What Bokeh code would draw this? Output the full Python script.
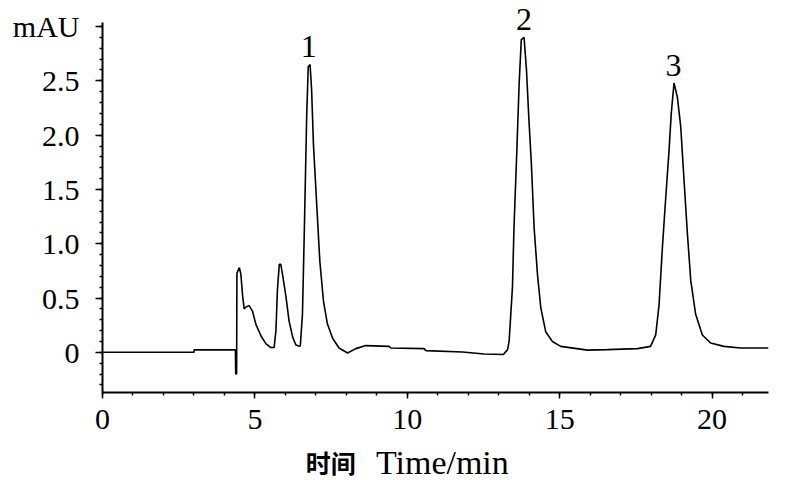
from bokeh.plotting import figure
from bokeh.models import FixedTicker, Range1d, ColumnDataSource
from bokeh.layouts import column
from bokeh.core.properties import value
from bokeh.embed import file_html
from bokeh.resources import INLINE

# Chromatogram trace (time in min, signal in mAU)
time_min = [0.0, 3.0, 3.01, 4.36, 4.37, 4.40, 4.41, 4.49, 4.54, 4.60, 4.65, 4.72,
            4.81, 4.92, 5.03, 5.20, 5.36, 5.52, 5.63, 5.69, 5.74, 5.80, 5.85, 5.91,
            6.02, 6.12, 6.24, 6.34, 6.45, 6.49, 6.56, 6.62, 6.70, 6.75, 6.81, 6.86,
            6.92, 7.02, 7.13, 7.25, 7.38, 7.55, 7.76, 8.04, 8.31, 8.64, 9.40, 9.46,
            10.55, 10.61, 11.81, 12.52, 13.15, 13.29, 13.34, 13.45, 13.50, 13.59,
            13.67, 13.74, 13.83, 13.91, 13.99, 14.07, 14.16, 14.27, 14.38, 14.54,
            14.76, 15.03, 15.91, 16.56, 17.55, 17.98, 18.15, 18.26, 18.37, 18.48,
            18.58, 18.66, 18.75, 18.86, 18.97, 19.08, 19.19, 19.30, 19.46, 19.68,
            19.95, 20.39, 20.93, 21.85]
signal_mau = [0.0, 0.0, 0.023, 0.023, -0.20, -0.20, 0.73, 0.78, 0.72, 0.51, 0.40, 0.42,
              0.43, 0.38, 0.26, 0.15, 0.08, 0.044, 0.044, 0.20, 0.58, 0.81, 0.81, 0.71,
              0.51, 0.29, 0.14, 0.07, 0.055, 0.06, 0.35, 1.10, 2.19, 2.63, 2.65, 2.42,
              1.92, 1.40, 0.84, 0.47, 0.26, 0.13, 0.04, -0.006, 0.034, 0.062, 0.055, 0.04,
              0.034, 0.016, 0.003, -0.015, -0.02, 0.025, 0.10, 0.60, 1.15, 1.83,
              2.48, 2.88, 2.90, 2.60, 2.14, 1.74, 1.15, 0.72, 0.41, 0.19,
              0.10, 0.055, 0.02, 0.025, 0.034, 0.055, 0.16, 0.44, 0.97, 1.43,
              1.83, 2.20, 2.48, 2.35, 2.08, 1.58, 1.09, 0.66, 0.35, 0.16,
              0.086, 0.055, 0.04, 0.04]

# Peak labels
peak_labels = ["1", "2", "3"]
peak_times = [6.77, 13.83, 18.73]
peak_heights = [2.65, 2.90, 2.48]

# Axis ticks and titles
x_major = [0, 5, 10, 15, 20]
x_minor = list(range(0, 22))
y_major = [0, 0.5, 1.0, 1.5, 2.0, 2.5, 3.0]
y_tick_labels = ["0", "0.5", "1.0", "1.5", "2.0", "2.5", "mAU"]
y_minor = [round(-0.3 + 0.1 * i, 1) for i in range(34)]
x_title_cn = "时间"
x_title_en = "Time/min"

SERIF = "Liberation Serif"

x_rng = Range1d(0, 21.85)
p = figure(width=790, height=443, x_range=x_rng, y_range=Range1d(-0.37, 3.24),
           output_backend="svg", toolbar_location=None,
           min_border_left=102, min_border_right=22, min_border_top=0, min_border_bottom=51)
p.outline_line_color = None
p.xgrid.grid_line_color = None
p.ygrid.grid_line_color = None
p.background_fill_color = "white"
p.border_fill_color = "white"

p.line(time_min, signal_mau, line_color="black", line_width=1.6)

src = ColumnDataSource(dict(x=peak_times, y=peak_heights, t=peak_labels))
p.text(x="x", y="y", text="t", source=src, text_font=value(SERIF), text_font_size="32px",
       text_align="center", text_baseline="alphabetic", y_offset=-18, text_color="black")

# x axis
xa = p.xaxis[0]
xa.ticker = FixedTicker(ticks=x_major, minor_ticks=x_minor)
xa.axis_line_width = 2
xa.axis_line_color = "black"
xa.major_tick_line_width = 1.5
xa.minor_tick_line_width = 1.5
xa.major_tick_out = 6
xa.major_tick_in = 0
xa.minor_tick_out = 3
xa.minor_tick_in = 0
xa.major_label_text_font = SERIF
xa.major_label_text_font_size = "30px"
xa.major_label_text_color = "black"
xa.major_label_standoff = 11

# y axis
ya = p.yaxis[0]
ya.ticker = FixedTicker(ticks=y_major, minor_ticks=y_minor)
ya.bounds = (-0.37, 3.04)
ya.major_label_overrides = dict(zip(y_major, y_tick_labels))
ya.axis_line_width = 2
ya.axis_line_color = "black"
ya.major_tick_line_width = 1.5
ya.minor_tick_line_width = 1.5
ya.major_tick_out = 7
ya.major_tick_in = 0
ya.minor_tick_out = 3
ya.minor_tick_in = 0
ya.major_label_text_font = SERIF
ya.major_label_text_font_size = "30px"
ya.major_label_text_color = "black"
ya.major_label_standoff = 16

# x-axis title strip (Chinese + English at different sizes), sharing the time scale
t = figure(width=790, height=37, x_range=x_rng, y_range=Range1d(0, 1),
           output_backend="svg", toolbar_location=None,
           min_border_left=102, min_border_right=22, min_border_top=0, min_border_bottom=0)
t.xaxis.visible = False
t.yaxis.visible = False
t.xgrid.grid_line_color = None
t.ygrid.grid_line_color = None
t.outline_line_color = None
t.background_fill_color = "white"
t.border_fill_color = "white"
t.text(x=[7.49], y=[0.5], text=[x_title_cn], text_font=value("Noto Sans CJK SC"),
       text_font_size="25px", text_font_style="bold", text_align="center",
       text_baseline="middle", text_color="black")
t.text(x=[8.97], y=[0.5], text=[x_title_en], text_font=value(SERIF),
       text_font_size="34px", text_align="left", text_baseline="middle", text_color="black")

open("out.html", "w").write(file_html(column(p, t, spacing=0), INLINE))
